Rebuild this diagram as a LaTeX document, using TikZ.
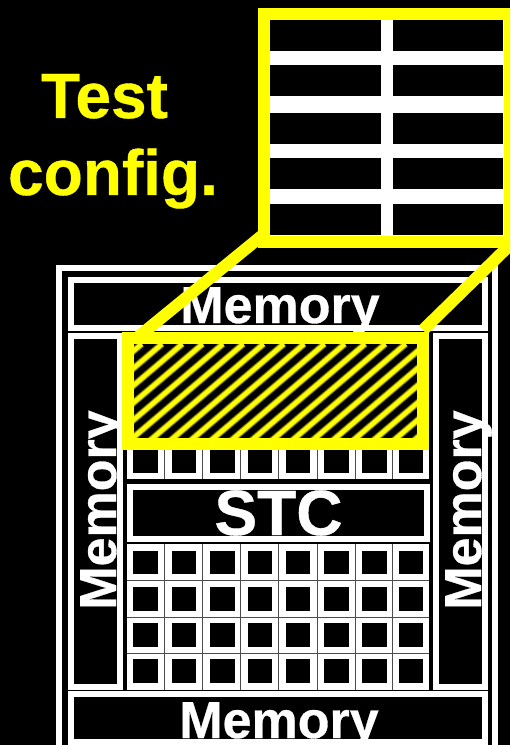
\documentclass[tikz,border=0pt]{standalone}
\usepackage{fontspec}
\setmainfont{Liberation Sans}[BoldFeatures={FakeBold=0.6}]
\definecolor{testyellow}{rgb}{1,1,0}
\definecolor{hatchdim}{rgb}{0.3,0.3,0}
\definecolor{hatchmid}{rgb}{0.7,0.7,0}
\definecolor{tilegap}{gray}{0.3}
\begin{document}
\begin{tikzpicture}[x=0.75pt, y=-0.75pt,
		wbox/.style={draw=white, line width=4.5pt},
		ybox/.style={draw=testyellow, line width=9pt},
		biglabel/.style={font=\bfseries\fontsize{48}{48}\selectfont, inner sep=0pt},
		memlabel/.style={white, anchor=base, font=\bfseries\fontsize{39}{39}\selectfont, inner sep=0pt}]
	\useasboundingbox (0,0) rectangle (510,745);
	\clip (0,0) rectangle (510,745);
	\fill[black] (0,0) rectangle (510,745);
	% chip frame, open at the bottom edge
	\draw[white, line width=4.2pt] (58.7,760) -- (58.7,268) -- (495,268) -- (495,760);
	\draw[wbox] (71,280) rectangle (485,328);
	\draw[wbox] (71,336) rectangle (119.5,687);
	\draw[wbox] (436,336) rectangle (484.5,687);
	\draw[wbox] (71,694) rectangle (485,742);
	\draw[wbox] (130,487) rectangle (426.5,539);
	% tiles
	\fill[white] (127,544) rectangle (428.5,689.5);
	\fill[white] (127,442) rectangle (428.5,479);
	\foreach \x in {164,202.5,240.5,278.5,317,355,392.5}
		\draw[tilegap, line width=0.6pt] (\x,544) -- (\x,689.5) (\x,442) -- (\x,479);
	\foreach \y in {580.5,617,653}
		\draw[tilegap, line width=0.6pt] (127,\y) -- (428.5,\y);
	\foreach \x in {133.3,171.7,210,247.7,285.7,324,362,398.7} {
		\foreach \y in {550.5,586.7,623.2,659.3}
			\fill[black] (\x,\y) rectangle ++(24.6,23.8);
		\fill[black] (\x,448) rectangle ++(24.6,24.8);
	}
	\node[memlabel] (memtop) at (280,323) {Memory};
	\node[memlabel] (membot) at (279,738) {Memory};
	\node[memlabel, rotate=90] (memleft) at (116,510) {Memory};
	\node[memlabel, rotate=90] (memright) at (481,510) {Memory};
	\node[white, anchor=base, biglabel] (stc) at (278.5,535) {STC};
	\node[testyellow, anchor=base, biglabel] (test) at (104.5,118) {Test};
	\node[testyellow, anchor=base, biglabel] (config) at (113,195) {config.};
	% zoom lines
	\coordinate (zoomleft) at (264,234);
	\coordinate (zoomright) at (513,242);
	\coordinate (testleft) at (138,337);
	\coordinate (testright) at (423,330);
	\draw[testyellow, line width=9pt] (zoomleft) -- (testleft);
	\draw[testyellow, line width=9pt] (zoomright) -- (testright);
	% test area
	\fill[black] (127.5,338) rectangle (423,444);
	\begin{scope}
		\clip (127.5,338) rectangle (423,444);
		\foreach \w/\col in {5.4pt/hatchdim, 4.2pt/hatchmid, 3pt/testyellow}
			\foreach \k in {-2,...,20}
				\draw[\col, line width=\w] ({162+20.3*\k},344) -- ++(-129.4,110);
	\end{scope}
	\draw[ybox] (127.5,338) rectangle (423,444);
	% zoomed view
	\fill[white] (264,14) rectangle (510,242);
	\foreach \x/\xx in {270/381, 393/503}
		\foreach \y/\yy in {20/51, 65/96, 113/144, 158/189, 204/235}
			\fill[black] (\x,\y) rectangle (\xx,\yy);
	\draw[ybox] (264,14) rectangle (509.5,242.4);
\end{tikzpicture}
\end{document}
